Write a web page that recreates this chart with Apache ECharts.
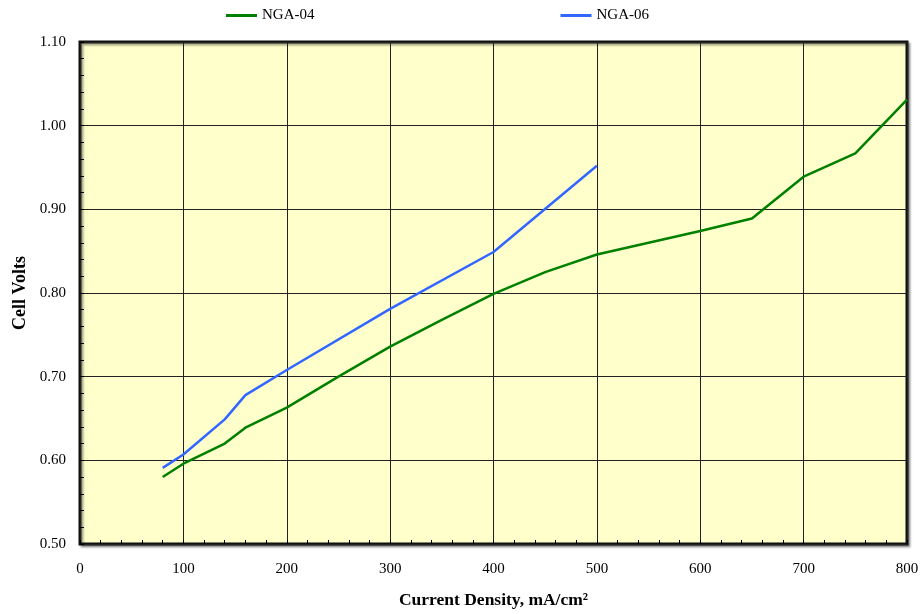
<!DOCTYPE html>
<html><head><meta charset="utf-8">
<script src="https://cdn.jsdelivr.net/npm/echarts@6/dist/echarts.min.js"></script>
<style>html,body{margin:0;padding:0;background:#fff}#c{width:922px;height:614px}</style>
</head><body><div id="c"></div>
<script>
const nga04X = [80, 100, 140, 160, 200, 250, 300, 350, 400, 450, 500, 600, 650, 700, 750, 800];
const nga04Y = [0.580, 0.596, 0.620, 0.639, 0.663, 0.700, 0.736, 0.768, 0.799, 0.825, 0.846, 0.874, 0.889, 0.939, 0.967, 1.031];
const nga06X = [80, 100, 140, 160, 200, 300, 400, 500];
const nga06Y = [0.591, 0.607, 0.649, 0.678, 0.708, 0.781, 0.849, 0.952];
const seriesNames = ['NGA-04', 'NGA-06'];
const seriesColors = ['#008000', '#3366FF'];

const font = '"Liberation Serif", "Times New Roman", serif';
const chart = echarts.init(document.getElementById('c'));
chart.setOption({
  animation: false,
  textStyle: { fontFamily: font },
  legend: {
    data: seriesNames,
    top: 3, left: 221,
    itemGap: 246, itemWidth: 31, itemHeight: 3, icon: 'rect',
    textStyle: { fontFamily: font, fontSize: 15, color: '#000' }
  },
  grid: {
    left: 80, right: 15, top: 42, bottom: 65,
    show: true, backgroundColor: '#FFFFCC', borderColor: '#111', borderWidth: 3,
    shadowColor: 'rgba(0,0,0,0.35)', shadowBlur: 2, shadowOffsetX: 2, shadowOffsetY: 2
  },
  xAxis: {
    type: 'value', min: 0, max: 800, interval: 100,
    name: 'Current Density, mA/cm²', nameLocation: 'middle', nameGap: 47,
    nameTextStyle: { fontFamily: font, fontWeight: 'bold', fontSize: 17.5, color: '#000' },
    axisLine: { show: false },
    axisTick: { show: true, inside: true, length: 4, lineStyle: { color: '#000' } },
    minorTick: { show: true, splitNumber: 5, length: 4, lineStyle: { color: '#000' } },
    axisLabel: { fontFamily: font, fontSize: 15, color: '#000', margin: 18 },
    splitLine: { show: true, lineStyle: { color: '#222', width: 1 } }
  },
  yAxis: {
    type: 'value', min: 0.5, max: 1.1, interval: 0.1,
    name: 'Cell Volts', nameLocation: 'middle', nameGap: 50,
    nameTextStyle: { fontFamily: font, fontWeight: 'bold', fontSize: 18, color: '#000' },
    axisLine: { show: false },
    axisTick: { show: true, inside: true, length: 4, lineStyle: { color: '#000' } },
    minorTick: { show: true, splitNumber: 5, length: 4, lineStyle: { color: '#000' } },
    axisLabel: { fontFamily: font, fontSize: 15, color: '#000', margin: 14, formatter: v => v.toFixed(2) },
    splitLine: { show: true, lineStyle: { color: '#222', width: 1 } }
  },
  series: [
    {
      name: seriesNames[0], type: 'line', symbol: 'none',
      data: nga04X.map((x, i) => [x, nga04Y[i]]),
      lineStyle: { color: seriesColors[0], width: 2.5 }, itemStyle: { color: seriesColors[0] }
    },
    {
      name: seriesNames[1], type: 'line', symbol: 'none',
      data: nga06X.map((x, i) => [x, nga06Y[i]]),
      lineStyle: { color: seriesColors[1], width: 2.5 }, itemStyle: { color: seriesColors[1] }
    }
  ]
});
</script></body></html>
